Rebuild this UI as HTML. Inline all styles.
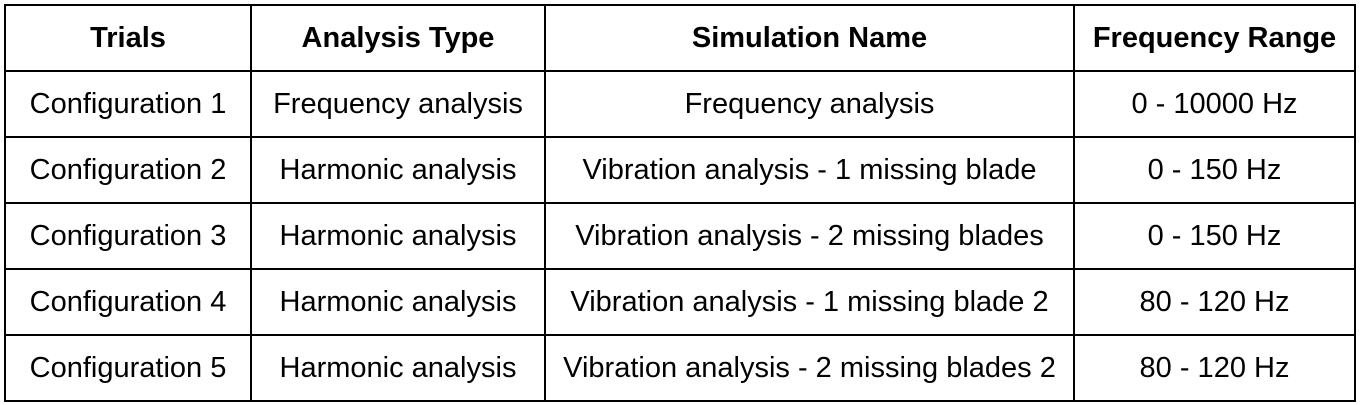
<!DOCTYPE html>
<html><head><style>
html,body{margin:0;padding:0;background:#fff;width:1360px;height:405px;overflow:hidden}
.l{position:absolute;background:#000}
.c{position:absolute;font-family:"Liberation Sans",Arial,sans-serif;font-size:29px;color:#000;text-align:center;line-height:66px;height:66px;white-space:nowrap}
.b{font-weight:bold}
</style></head><body>
<div class="l" style="left:4px;top:4px;width:2px;height:398px"></div>
<div class="l" style="left:250px;top:4px;width:2px;height:398px"></div>
<div class="l" style="left:544px;top:4px;width:2px;height:398px"></div>
<div class="l" style="left:1073px;top:4px;width:2px;height:398px"></div>
<div class="l" style="left:1354px;top:4px;width:2px;height:398px"></div>
<div class="l" style="left:4px;top:4px;width:1352px;height:2px"></div>
<div class="l" style="left:4px;top:70px;width:1352px;height:2px"></div>
<div class="l" style="left:4px;top:136px;width:1352px;height:2px"></div>
<div class="l" style="left:4px;top:202px;width:1352px;height:2px"></div>
<div class="l" style="left:4px;top:268px;width:1352px;height:2px"></div>
<div class="l" style="left:4px;top:334px;width:1352px;height:2px"></div>
<div class="l" style="left:4px;top:400px;width:1352px;height:2px"></div>

<div class="c b" style="left:6px;width:244px;top:5px">Trials</div>
<div class="c b" style="left:252px;width:292px;top:5px">Analysis Type</div>
<div class="c b" style="left:546px;width:527px;top:5px">Simulation Name</div>
<div class="c b" style="left:1075px;width:279px;top:5px">Frequency Range</div>

<div class="c" style="left:6px;width:244px;top:71px">Configuration 1</div>
<div class="c" style="left:252px;width:292px;top:71px">Frequency analysis</div>
<div class="c" style="left:546px;width:527px;top:71px">Frequency analysis</div>
<div class="c" style="left:1075px;width:279px;top:71px">0 - 10000 Hz</div>

<div class="c" style="left:6px;width:244px;top:137px">Configuration 2</div>
<div class="c" style="left:252px;width:292px;top:137px">Harmonic analysis</div>
<div class="c" style="left:546px;width:527px;top:137px">Vibration analysis - 1 missing blade</div>
<div class="c" style="left:1075px;width:279px;top:137px">0 - 150 Hz</div>

<div class="c" style="left:6px;width:244px;top:203px">Configuration 3</div>
<div class="c" style="left:252px;width:292px;top:203px">Harmonic analysis</div>
<div class="c" style="left:546px;width:527px;top:203px">Vibration analysis - 2 missing blades</div>
<div class="c" style="left:1075px;width:279px;top:203px">0 - 150 Hz</div>

<div class="c" style="left:6px;width:244px;top:269px">Configuration 4</div>
<div class="c" style="left:252px;width:292px;top:269px">Harmonic analysis</div>
<div class="c" style="left:546px;width:527px;top:269px">Vibration analysis - 1 missing blade 2</div>
<div class="c" style="left:1075px;width:279px;top:269px">80 - 120 Hz</div>

<div class="c" style="left:6px;width:244px;top:335px">Configuration 5</div>
<div class="c" style="left:252px;width:292px;top:335px">Harmonic analysis</div>
<div class="c" style="left:546px;width:527px;top:335px">Vibration analysis - 2 missing blades 2</div>
<div class="c" style="left:1075px;width:279px;top:335px">80 - 120 Hz</div>
</body></html>
